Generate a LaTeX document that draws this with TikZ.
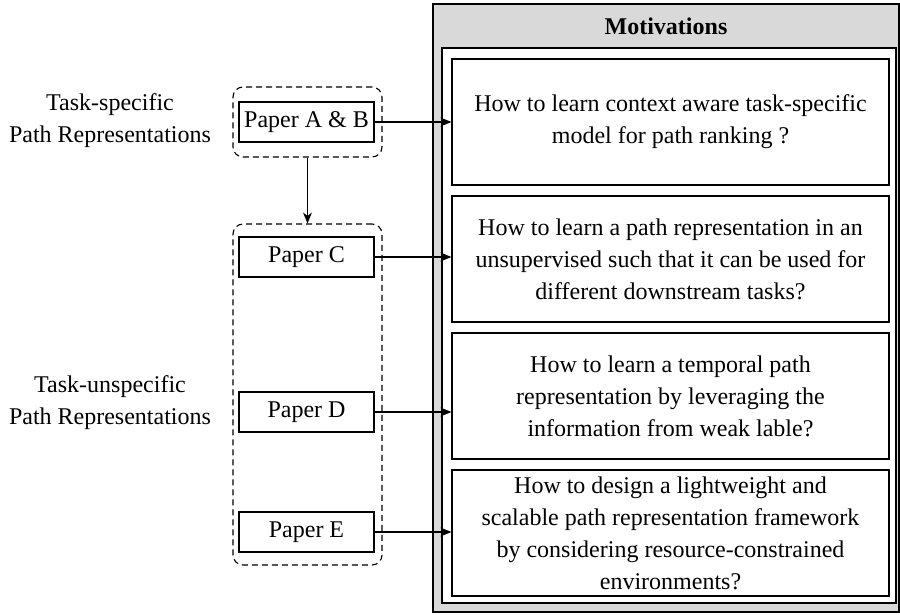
\documentclass[tikz,border=0pt]{standalone}
\usepackage{fontspec}
\setmainfont{Liberation Serif}
\usetikzlibrary{arrows.meta}

\begin{document}
\begin{tikzpicture}[x=1pt, y=-1pt,
		every node/.style={font=\fontsize{24}{32}\selectfont},
		paper/.style={draw, line width=1.3pt, minimum width=135pt, minimum height=40pt, inner sep=0pt},
		question/.style={draw, line width=1.3pt, minimum width=437pt, minimum height=126pt, align=center, inner sep=0pt},
		group/.style={draw, rounded corners=10pt, line width=1.1pt, dash pattern=on 6pt off 4pt, inner sep=0pt},
		link/.style={-{Stealth[length=11pt, width=9pt]}, line width=1.1pt}]
		%%%%% START %%%%%
		\useasboundingbox (0, 0) rectangle (900, 614);
		
		\draw[fill=black!15, line width=1.5pt] (433, 4) rectangle (899, 612);
		\draw[fill=white, line width=1.5pt] (442, 48) rectangle (896, 603);
		\node[font=\fontsize{24}{32}\selectfont\bfseries] (title) at (666, 26) {Motivations};
		
		\node[question] (q1) at (670.5, 122) {How to learn context aware task-specific\\model for path ranking ?};
		\node[question] (q2) at (670.5, 259) {How to learn a path representation in an\\unsupervised such that it can be used for\\different downstream tasks?};
		\node[question] (q3) at (670.5, 396) {How to learn a temporal path\\representation by leveraging the\\information from weak lable?};
		\node[question] (q4) at (670.5, 533) {How to design a lightweight and\\scalable path representation framework\\by considering resource-constrained\\environments?};
		
		\node[group, minimum width=149pt, minimum height=70pt] (specific) at (307.5, 122) {};
		\node[group, minimum width=149pt, minimum height=341pt] (unspecific) at (307.5, 394.5) {};
		
		\node[paper] (pAB) at (306.5, 122) {Paper A \& B};
		\node[paper] (pC) at (306.5, 257) {Paper C};
		\node[paper] (pD) at (306.5, 412) {Paper D};
		\node[paper] (pE) at (306.5, 532) {Paper E};
		
		\node[align=center] (lspecific) at (110, 121) {Task-specific\\Path Representations};
		\node[align=center] (lunspecific) at (110, 403) {Task-unspecific\\Path Representations};
		
		\draw[link] (specific.south) -- (unspecific.north);
		\draw[link] (pAB.east) -- (pAB.east -| q1.west);
		\draw[link] (pC.east) -- (pC.east -| q2.west);
		\draw[link] (pD.east) -- (pD.east -| q3.west);
		\draw[link] (pE.east) -- (pE.east -| q4.west);
		%%%%% END %%%%%
\end{tikzpicture}
\end{document}
